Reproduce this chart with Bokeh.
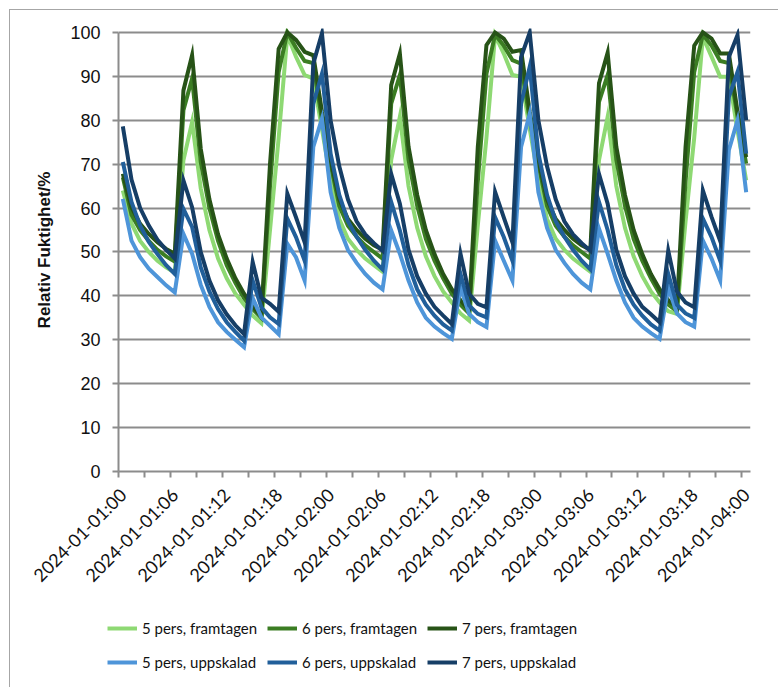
from bokeh.plotting import figure
from bokeh.models import Range1d, FixedTicker, Legend, LegendItem
from bokeh.layouts import column
from bokeh.embed import file_html
from bokeh.resources import INLINE
from math import pi

# Hourly relative humidity, 2024-01-01 00:00 .. 2024-01-04 00:00 (73 hourly categories)
hours = list(range(73))

tick_labels = [
    "2024-01-01:00", "2024-01-01:06", "2024-01-01:12", "2024-01-01:18",
    "2024-01-02:00", "2024-01-02:06", "2024-01-02:12", "2024-01-02:18",
    "2024-01-03:00", "2024-01-03:06", "2024-01-03:12", "2024-01-03:18",
    "2024-01-04:00",
]

fram_5 = [
    64, 56.5, 52.5, 50, 48, 46.5, 45.3, 70.9, 79.6, 64.5, 55, 48.5, 44, 40.5, 38, 35.5, 33.8, 55, 76, 99.4, 94.5, 90.3, 89.5, 78,
    66.5, 57.5, 53, 50.5, 48.5, 47, 45.5, 71, 80.8, 65, 55.5, 49, 44.5, 41, 38.5, 36, 34.4, 56, 76, 99.4, 95.2, 90.3, 89.9, 78,
    66.5, 57.5, 53, 50.5, 48.5, 47, 45.5, 70.9, 80.8, 65, 55.5, 49, 44.5, 41, 38.5, 36.5, 35.9, 57, 76, 99, 94.5, 89.9, 89.9, 77.7,
    66.3,
]
fram_6 = [
    67, 58.5, 55, 52.5, 50.5, 49, 47.8, 82.3, 89.5, 70.5, 60, 52.5, 47, 43, 39.5, 37, 35, 65, 91, 100, 96.5, 93.5, 93, 80,
    70, 60.5, 56, 53.5, 51.5, 50, 48.5, 83.8, 90.3, 71, 60.5, 53, 48, 44, 40.5, 38, 36, 66, 90.6, 99.5, 97, 93.7, 92.9, 80,
    70, 60.5, 56, 53.5, 51.5, 50, 48.5, 84.2, 90.3, 71, 60.5, 53, 48, 44, 40.5, 38, 36.5, 66, 91, 99.5, 97, 93.5, 93, 80.8,
    70.1,
]
fram_7 = [
    67.8, 60.2, 56.4, 54.1, 52.2, 50.7, 49.6, 86.8, 94.8, 73.5, 62, 54, 48.5, 44, 40.5, 37.5, 35.5, 70, 96.3, 100, 98.3, 95.6, 94.8, 82,
    71, 62, 57.5, 55, 53, 51.5, 50.5, 88, 95.2, 74, 63, 55, 49.5, 45, 41.5, 39, 36.7, 73.9, 97.1, 100, 98.6, 95.6, 96, 82,
    71, 62, 57.5, 55, 53, 51.5, 50.5, 88.4, 95.4, 74, 63, 55, 49.5, 45, 41.5, 39, 37.4, 74, 97, 100, 98.6, 95.2, 95.2, 82,
    71.6,
]
upp_5 = [
    62.1, 52.6, 48.8, 46.2, 44.3, 42.4, 40.8, 54.1, 49.6, 42.5, 37.5, 34, 31.8, 30, 28.3, 39.5, 35.1, 33.2, 31.3, 51.9, 48.8, 43.5, 73.9, 80.4,
    63.6, 55.5, 50.5, 47.5, 45, 43, 41.5, 54.9, 49.6, 43.5, 38.5, 35, 33, 31.5, 30.2, 42, 35.9, 34, 32.9, 52.6, 48, 43.5, 73.9, 81.5,
    63.6, 55.5, 50.5, 47.5, 45, 43, 41.5, 55.3, 49.6, 43.5, 38.5, 35, 33, 31.5, 30.2, 42, 36, 34, 33, 52.6, 48.5, 43.5, 73.2, 80,
    63.6,
]
upp_6 = [
    70.5, 61.4, 56, 52.3, 49.5, 47, 45, 59.8, 55.7, 46.5, 41, 37, 34, 31.8, 29.8, 43.5, 37.4, 35.1, 33.6, 57.6, 53.4, 48, 83.8, 90.6,
    72.4, 63, 57, 53.5, 50.5, 48, 46, 61.4, 54.9, 47, 41.5, 38, 35.5, 33.5, 32.1, 45, 37.8, 35.9, 35.1, 57.9, 53.4, 48, 83.8, 92.2,
    72.4, 63, 57, 53.5, 50.5, 48, 46, 61.4, 55, 47, 41.5, 38, 35.5, 33.5, 32.1, 45, 38, 36, 35, 57.6, 53.4, 48, 85.3, 91,
    72.4,
]
upp_7 = [
    78.6, 66.5, 60, 56, 52.8, 50.5, 48.5, 66.3, 60.2, 50, 43.5, 39, 35.8, 33.3, 31.3, 47.7, 39.6, 38.2, 36.4, 63.3, 57.9, 52.2, 92.9, 99.8,
    80, 69.5, 62, 57, 54, 52, 50.3, 67.8, 61, 50.5, 44.5, 40.5, 37.5, 35.5, 33.6, 49.6, 40.5, 38.2, 37.4, 63.7, 57.9, 52.2, 94.4, 100,
    80, 69.5, 62, 57, 54, 52, 50.3, 67.8, 61, 50.5, 44.5, 40.5, 37.5, 35.8, 34, 50.3, 41, 38.5, 37.4, 64, 58, 52.5, 94.4, 99.4,
    80,
]

series_names = [
    "5 pers, framtagen", "6 pers, framtagen", "7 pers, framtagen",
    "5 pers, uppskalad", "6 pers, uppskalad", "7 pers, uppskalad",
]
series_values = [fram_5, fram_6, fram_7, upp_5, upp_6, upp_7]
series_colors = ["#8ED973", "#3B7D23", "#275317", "#4E95D9", "#215F9A", "#163E66"]

GRID = "#8C8C8C"
TEXT = "#111111"
LINE_W = 4

# ---- main chart -------------------------------------------------------------
p = figure(
    width=768, height=591,
    output_backend="svg", toolbar_location=None,
    x_range=Range1d(0, 73), y_range=Range1d(0, 100.9),
    min_border_left=108, min_border_right=28,
    min_border_top=18, min_border_bottom=130,
    background_fill_color="white", border_fill_color="white",
)
p.outline_line_color = None
p.frame_align = False

# categories sit in the middle of their slot
xs = [h + 0.5 for h in hours]
for vals, col in zip(series_values, series_colors):
    p.line(xs, vals, line_color=col, line_width=LINE_W, line_join="miter")

# y axis
p.yaxis.ticker = FixedTicker(ticks=list(range(0, 101, 10)))
p.yaxis.bounds = (0, 100)
p.yaxis.axis_line_color = GRID
p.yaxis.axis_line_width = 2
p.yaxis.major_tick_line_color = GRID
p.yaxis.major_tick_line_width = 2
p.yaxis.major_tick_out = 6
p.yaxis.major_tick_in = 0
p.yaxis.minor_tick_line_color = None
p.yaxis.major_label_text_font = "Liberation Sans"
p.yaxis.major_label_text_font_size = "18px"
p.yaxis.major_label_text_color = TEXT
p.yaxis.major_label_standoff = 12
p.yaxis.axis_label = "Relativ Fuktighet/%"
p.yaxis.axis_label_text_font = "Liberation Sans"
p.yaxis.axis_label_text_font_style = "bold"
p.yaxis.axis_label_text_font_size = "17px"
p.yaxis.axis_label_text_color = TEXT
p.yaxis.axis_label_standoff = 13

# x axis: tick marks between categories every 3 h, labels every 6 h
label_pos = [h + 0.5 for h in hours[::6]]
p.xaxis.ticker = FixedTicker(ticks=label_pos, minor_ticks=list(range(0, 73, 3)))
p.xaxis.major_label_overrides = {pos: lab for pos, lab in zip(label_pos, tick_labels)}
p.xaxis.bounds = (0, 73)
p.xaxis.major_label_orientation = pi / 4
p.xaxis.axis_line_color = GRID
p.xaxis.axis_line_width = 2
p.xaxis.major_tick_line_color = None
p.xaxis.major_tick_out = 0
p.xaxis.major_tick_in = 0
p.xaxis.minor_tick_line_color = GRID
p.xaxis.minor_tick_line_width = 2
p.xaxis.minor_tick_out = 6
p.xaxis.minor_tick_in = 0
p.xaxis.major_label_text_font = "Lato"
p.xaxis.major_label_text_font_size = "18px"
p.xaxis.major_label_text_color = TEXT
p.xaxis.major_label_standoff = 14

p.xgrid.grid_line_color = None
p.ygrid.ticker = FixedTicker(ticks=list(range(10, 101, 10)))
p.ygrid.grid_line_color = GRID
p.ygrid.grid_line_width = 2

# ---- legend strip underneath: two rows of three -----------------------------
leg = figure(
    width=768, height=86,
    output_backend="svg", toolbar_location=None,
    x_axis_type=None, y_axis_type=None,
    x_range=Range1d(0, 1), y_range=Range1d(0, 1),
    min_border=0,
    background_fill_color="white", border_fill_color="white",
)
leg.outline_line_color = None
leg.grid.visible = False
leg.frame_align = False

items = []
for name, col in zip(series_names, series_colors):
    # swatch line kept outside the strip's visible range; only its legend entry shows
    swatch = leg.line([5, 6], [5, 5], line_color=col, line_width=LINE_W)
    items.append(LegendItem(label=name, renderers=[swatch]))

legend = Legend(
    items=items, orientation="horizontal", ncols=3,
    location=(97, 8),
    label_text_font="Lato", label_text_font_size="15px", label_text_color=TEXT,
    glyph_width=30, glyph_height=20, label_standoff=5, label_width=125, label_height=34,
    spacing=0, padding=0, margin=0,
    border_line_color=None, background_fill_alpha=0,
)
leg.add_layout(legend, "center")

layout = column(p, leg, spacing=0)
layout.margin = (9, 0, 0, 9)
layout.styles = {"border-left": "1px solid #A6A6A6", "border-top": "1px solid #A6A6A6"}

open("out.html", "w").write(file_html(layout, INLINE))
